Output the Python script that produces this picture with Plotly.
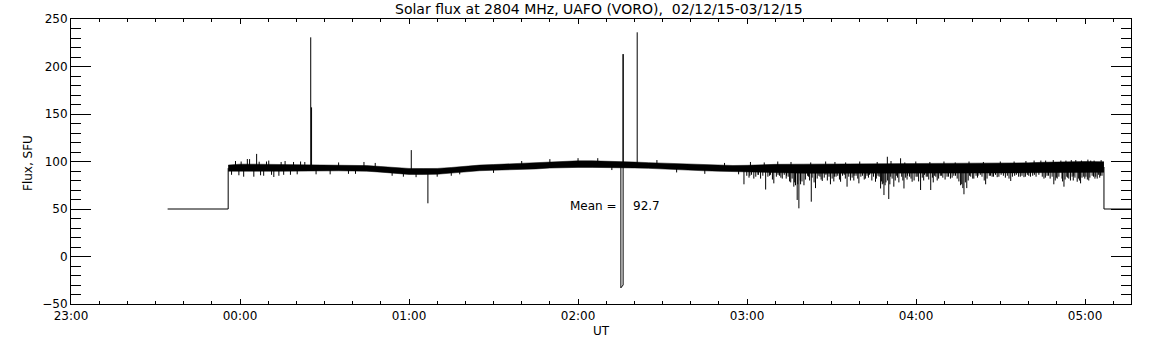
import numpy as np
import pandas as pd
import plotly.graph_objects as go

T0 = pd.Timestamp("2015-12-02 23:00:00")

# ---------------- data (time in minutes after 23:00 UT, flux in SFU) ----------------
title_text = "Solar flux at 2804 MHz, UAFO (VORO),  02/12/15-03/12/15"
mean_value = 92.7

# calibration level before / after the observation
pre_t = [34.3, 55.8]
pre_v = [50, 50]
post_t = [366.7, 380.0]
post_v = [50, 50]

# envelope of the noisy flux record
band_t = [55.8, 60, 65, 70, 75, 80, 85, 90, 95, 100, 105, 110, 115, 120, 125, 130,
          135, 140, 145, 150, 155, 160, 165, 170, 175, 180, 185, 190, 195, 200, 205,
          210, 215, 220, 225, 230, 235, 240, 250, 260, 270, 280, 290, 300, 310, 320,
          330, 335, 340, 345, 350, 355, 360, 366.7]
band_hi = [96.2, 97.2, 97.2, 97.0, 96.8, 96.7, 96.6, 96.4, 96.2, 96.0, 95.7, 94.7,
           93.4, 92.7, 92.6, 92.7, 93.7, 95.2, 96.2, 96.8, 97.4, 98.2, 99.0, 99.8,
           100.4, 100.7, 100.7, 100.5, 100.2, 99.4, 98.8, 98.2, 97.6, 97.0, 96.6,
           96.2, 95.8, 96.0, 97.0, 97.2, 97.3, 97.5, 97.5, 97.5, 97.6, 97.8, 98.0,
           98.2, 98.6, 99.2, 99.6, 99.8, 100.0, 99.8]
band_lo = [89.8, 89.6, 89.6, 89.8, 89.8, 90.0, 90.1, 90.2, 90.2, 90.0, 89.8, 88.8,
           87.3, 86.4, 86.3, 86.6, 87.8, 89.4, 90.3, 90.8, 91.2, 91.4, 92.2, 93.1,
           93.6, 93.8, 93.8, 93.8, 93.6, 93.2, 92.8, 92.0, 91.4, 90.6, 90.2, 89.8,
           89.4, 89.0, 87.8, 87.6, 87.6, 87.6, 87.4, 87.6, 87.8, 87.8, 88.0, 88.0,
           88.2, 88.3, 88.4, 88.5, 88.6, 88.6]

# isolated spikes / dips (time, extreme value)
spike_t = [61.3, 62.6, 63.4, 64.9, 65.9, 68.4, 70.2, 72.0, 73.8, 76.0, 77.9, 81.5,
           85.1, 85.4, 92.0, 98.5, 104.0, 120.8, 126.7, 135.0, 201.0,
           238.9, 241.0, 242.4, 244.0, 246.6, 248.0, 249.5, 251.0, 252.5, 254.0,
           255.5, 256.6, 257.2, 257.8, 258.4, 259.0, 260.2, 261.5, 262.8, 264.3,
           265.5, 266.7, 268.0, 269.6, 271.0, 272.2, 273.2, 274.5, 275.5, 276.7,
           278.0, 279.7, 281.0, 282.0, 283.5, 285.6, 286.5, 287.4, 288.0, 288.6,
           289.0, 289.8, 290.3, 291.0, 292.1, 293.0, 294.5, 295.7, 297.0, 298.6,
           300.0, 301.6, 303.0, 304.0, 305.2, 306.5, 307.5, 309.0, 311.0, 312.2,
           314.0, 315.8, 317.0, 318.0, 319.0, 320.5, 322.0, 324.7, 326.0, 327.5,
           328.8, 331.0, 333.6, 335.0, 337.0, 338.3, 340.0, 342.0, 344.3, 345.4,
           347.0, 348.9, 350.1, 351.4, 352.5, 353.5, 354.8, 356.0, 356.7, 357.2,
           358.4, 359.5, 360.8, 362.0, 363.0, 364.3, 365.5]
spike_v = [84.0, 102.6, 102.5, 84.0, 108.0, 85.0, 101.0, 83.7, 85.0, 100.5, 86.0, 100.0,
           230.7, 157.0, 86.5, 87.0, 99.5, 112.0, 56.0, 85.0, 236.0,
           76.0, 85.0, 82.0, 86.0, 70.5, 85.0, 77.0, 86.0, 82.0, 85.0,
           78.0, 73.5, 75.0, 59.5, 50.7, 76.0, 75.0, 85.0, 57.7, 72.0,
           85.0, 79.5, 86.0, 76.0, 84.0, 85.0, 78.7, 86.0, 73.5, 80.0,
           85.0, 77.0, 85.0, 82.0, 86.0, 78.7, 85.0, 71.6, 76.0, 64.7,
           75.0, 105.0, 60.5, 84.0, 73.5, 85.0, 103.4, 71.6, 85.0, 78.7,
           84.0, 70.0, 86.0, 84.0, 70.0, 85.0, 80.0, 85.0, 84.0, 82.0,
           85.0, 75.0, 65.5, 72.0, 85.0, 82.0, 85.0, 76.0, 85.0, 84.0,
           83.5, 85.0, 79.5, 85.0, 84.0, 83.5, 85.0, 86.0, 101.0, 82.0,
           85.0, 76.0, 82.0, 101.0, 73.5, 84.0, 80.0, 85.0, 101.5, 78.7,
           77.0, 84.0, 81.0, 101.0, 84.0, 82.0, 85.0]

# small fluctuations that make the edges of the record ragged (time, extreme value)
noise_t = [57.0, 58.4, 59.6, 60.4, 66.8, 67.3, 69.4, 71.2, 74.6, 75.5, 79.0, 80.3,
           83.0, 87.0, 95.0, 101.0, 108.0, 114.0, 118.0, 122.5, 130.0, 138.0, 150.0,
           160.0, 170.0, 180.0, 187.0, 192.0, 208.0, 215.0, 225.0, 232.0, 237.0,
           239.9, 240.7, 241.2, 241.6, 243.1, 243.9, 244.8, 245.6, 246.1, 247.4,
           248.3, 249.0, 250.4, 250.9, 251.5, 252.0, 253.2, 253.9, 254.6, 255.1,
           255.6, 256.0, 256.9, 258.0, 258.9, 259.5, 260.7, 261.8, 262.2, 262.6,
           263.1, 263.8, 264.9, 265.9, 266.3, 267.4, 267.9, 268.5, 269.1, 270.2,
           270.8, 271.2, 271.6, 272.8, 273.9, 274.9, 275.0, 276.1, 277.3, 277.9,
           278.7, 279.3, 280.0, 280.4, 281.6, 282.6, 283.1, 284.3, 284.9, 285.9,
           286.2, 286.9, 287.7, 288.3, 289.3, 289.9, 290.7, 291.1, 291.5, 292.6,
           293.4, 293.9, 294.9, 295.3, 296.0, 296.3, 296.8, 297.7, 298.2, 299.3,
           299.9, 300.4, 300.9, 302.2, 302.7, 303.6, 304.5, 304.9, 305.8, 306.1,
           307.0, 308.0, 308.6, 309.5, 309.9, 310.3, 311.5, 312.8, 313.4, 313.9,
           314.6, 315.2, 316.2, 316.6, 317.5, 318.5, 318.8, 319.4, 320.1, 321.3,
           321.8, 322.8, 323.4, 323.9, 324.2, 325.2, 326.4, 327.0, 328.2, 329.4,
           329.9, 330.2, 331.7, 332.4, 333.0, 334.2, 334.8, 335.6, 336.4, 337.6,
           338.8, 339.0, 339.5, 340.6, 341.4, 341.9, 342.6, 343.6, 344.8, 345.9,
           346.0, 346.5, 347.6, 348.3, 348.7, 349.4, 349.8, 350.7, 351.8, 352.0,
           352.9, 353.2, 353.8, 354.2, 355.1, 355.4, 355.8, 356.4, 357.7, 358.0,
           358.7, 358.9, 359.9, 360.3, 361.0, 361.3, 361.7, 362.5, 363.2, 363.5,
           363.8, 364.8, 365.2, 365.7, 366.0]
noise_v = [86.0, 100.5, 85.5, 100.0, 99.8, 85.5, 100.0, 86.0, 99.5, 86.0, 99.5, 86.5,
           99.5, 86.5, 99.0, 87.0, 98.5, 85.0, 84.0, 83.5, 84.0, 86.5, 88.0,
           100.5, 102.5, 103.5, 103.5, 91.0, 101.5, 88.5, 87.0, 98.5, 86.5,
           85.0, 83.0, 99.5, 86.0, 84.0, 86.0, 82.0, 85.0, 99.0, 84.0,
           86.0, 81.0, 84.0, 100.0, 85.0, 83.0, 86.0, 82.0, 84.0, 79.0,
           99.5, 82.0, 78.0, 76.0, 80.0, 79.0, 81.0, 84.0, 80.0, 99.0,
           83.0, 78.0, 82.0, 84.0, 81.0, 83.0, 100.0, 80.0, 84.0, 82.0,
           79.0, 99.5, 84.0, 81.0, 85.0, 82.0, 99.0, 84.0, 83.0, 80.0,
           85.0, 82.0, 100.0, 84.0, 81.0, 85.0, 83.0, 80.0, 84.0, 82.0,
           99.5, 84.0, 79.0, 77.0, 78.0, 80.0, 76.0, 100.5, 82.0, 80.0,
           83.0, 78.0, 84.0, 80.0, 99.0, 83.0, 81.0, 84.0, 82.0, 80.0,
           100.0, 84.0, 79.0, 83.0, 80.0, 84.0, 81.0, 99.5, 83.0, 78.0,
           84.0, 82.0, 85.0, 83.0, 100.0, 81.0, 84.0, 83.0, 85.0, 99.0,
           82.0, 79.0, 76.0, 72.0, 78.0, 80.0, 100.0, 84.0, 82.0, 85.0,
           83.0, 86.0, 84.0, 99.5, 80.0, 82.0, 85.0, 84.0, 86.0, 84.0,
           100.0, 86.0, 83.0, 85.0, 82.0, 84.0, 100.0, 86.0, 84.0, 85.0,
           84.0, 100.5, 86.0, 84.0, 85.0, 101.0, 84.0, 86.0, 84.0, 83.0,
           101.0, 85.0, 82.0, 84.0, 101.5, 80.0, 83.0, 84.0, 82.0, 79.0,
           81.0, 101.0, 83.0, 82.0, 101.5, 84.0, 80.0, 83.0, 82.0, 80.0,
           101.0, 83.0, 82.0, 84.0, 102.0, 80.0, 83.0, 85.0, 101.0, 82.0,
           84.0, 86.0, 83.0, 101.5, 85.0]

# interference burst near 02:15 UT
burst_t = [195.2, 195.2, 196.0, 196.0, 196.0]
burst_v = [96.0, -33.0, -30.0, 213.0, 96.0]

# ---------------- helpers ----------------
def tm(m):
    return None if m is None else T0 + pd.to_timedelta(m, unit="m")

band_mid = (np.array(band_hi) + np.array(band_lo)) / 2.0

def mid(t):
    return float(np.interp(t, band_t, band_mid))

line = dict(color="black", width=1)
fig = go.Figure()

# steps before/after
step_x = [tm(pre_t[0]), tm(pre_t[1]), tm(pre_t[1]), None,
          tm(post_t[0]), tm(post_t[0]), tm(post_t[1])]
step_y = [pre_v[0], pre_v[1], mid(pre_t[1]), None,
          mid(post_t[0]), post_v[0], post_v[1]]
fig.add_trace(go.Scatter(x=step_x, y=step_y, mode="lines", line=line,
                         connectgaps=False, hoverinfo="skip"))

# band
fig.add_trace(go.Scatter(x=[tm(t) for t in band_t], y=band_lo, mode="lines",
                         line=dict(color="black", width=0.5), hoverinfo="skip"))
fig.add_trace(go.Scatter(x=[tm(t) for t in band_t], y=band_hi, mode="lines",
                         line=dict(color="black", width=0.5), fill="tonexty",
                         fillcolor="black", hoverinfo="skip"))

# spikes and small fluctuations
sx, sy = [], []
for t, v in list(zip(spike_t, spike_v)) + list(zip(noise_t, noise_v)):
    sx += [tm(t), tm(t), None]
    sy += [mid(t), v, None]
fig.add_trace(go.Scatter(x=sx, y=sy, mode="lines", line=line,
                         connectgaps=False, hoverinfo="skip"))

# burst
fig.add_trace(go.Scatter(x=[tm(t) for t in burst_t], y=burst_v, mode="lines",
                         line=line, hoverinfo="skip"))

W, H = 1152, 345
L, R, T, B = 71, 21, 19, 41
pw = W - L - R
ph = H - T - B

fig.update_layout(
    width=W, height=H,
    margin=dict(l=L, r=R, t=T, b=B),
    paper_bgcolor="white", plot_bgcolor="white",
    showlegend=False,
    font=dict(family="DejaVu Sans", size=12, color="black"),
    title=dict(text=title_text, x=598.8 / W, xanchor="center",
               y=1 - 9.5 / H, yref="container", yanchor="middle",
               font=dict(size=14, color="black")),
    xaxis=dict(
        type="date",
        range=[tm(0), tm(376.3)],
        dtick=3600000, tick0=tm(0), tickformat="%H:%M",
        ticks="inside", ticklen=5, tickwidth=1, tickcolor="black",
        showline=True, linecolor="black", linewidth=1, mirror="ticks",
        showgrid=False, zeroline=False, automargin=False,
        ticklabelstandoff=1,
        minor=dict(dtick=600000, ticks="inside", ticklen=3, tickwidth=1,
                   tickcolor="black", showgrid=False),
        tickfont=dict(size=12),
    ),
    yaxis=dict(
        range=[-50, 250], dtick=50, tick0=0,
        ticks="inside", ticklen=20, tickwidth=1, tickcolor="black",
        showline=True, linecolor="black", linewidth=1, mirror="ticks",
        showgrid=False, zeroline=False, automargin=False,
        minor=dict(dtick=10, ticks="inside", ticklen=10, tickwidth=1,
                   tickcolor="black", showgrid=False),
        tickfont=dict(size=12),
    ),
    annotations=[
        dict(text="Flux, SFU", xref="paper", yref="paper",
             x=(28 - L) / pw, y=(H - B - 163) / ph, textangle=-90,
             showarrow=False, xanchor="center", yanchor="middle",
             font=dict(size=12)),
        dict(text="UT", xref="paper", yref="paper",
             x=(601 - L) / pw, y=(H - B - 330.5) / ph,
             showarrow=False, xanchor="center", yanchor="middle",
             font=dict(size=12)),
        dict(text="Mean =", xref="x", yref="y", x=tm(176.4), y=53.5,
             showarrow=False, xanchor="left", yanchor="middle",
             font=dict(size=12)),
        dict(text="%.1f" % mean_value, xref="x", yref="y", x=tm(198.7), y=53.5,
             showarrow=False, xanchor="left", yanchor="middle",
             font=dict(size=12)),
    ],
)

fig.write_html("out.html", config={"displayModeBar": False},
               post_script="document.body.style.margin='0';document.body.style.padding='0';")
